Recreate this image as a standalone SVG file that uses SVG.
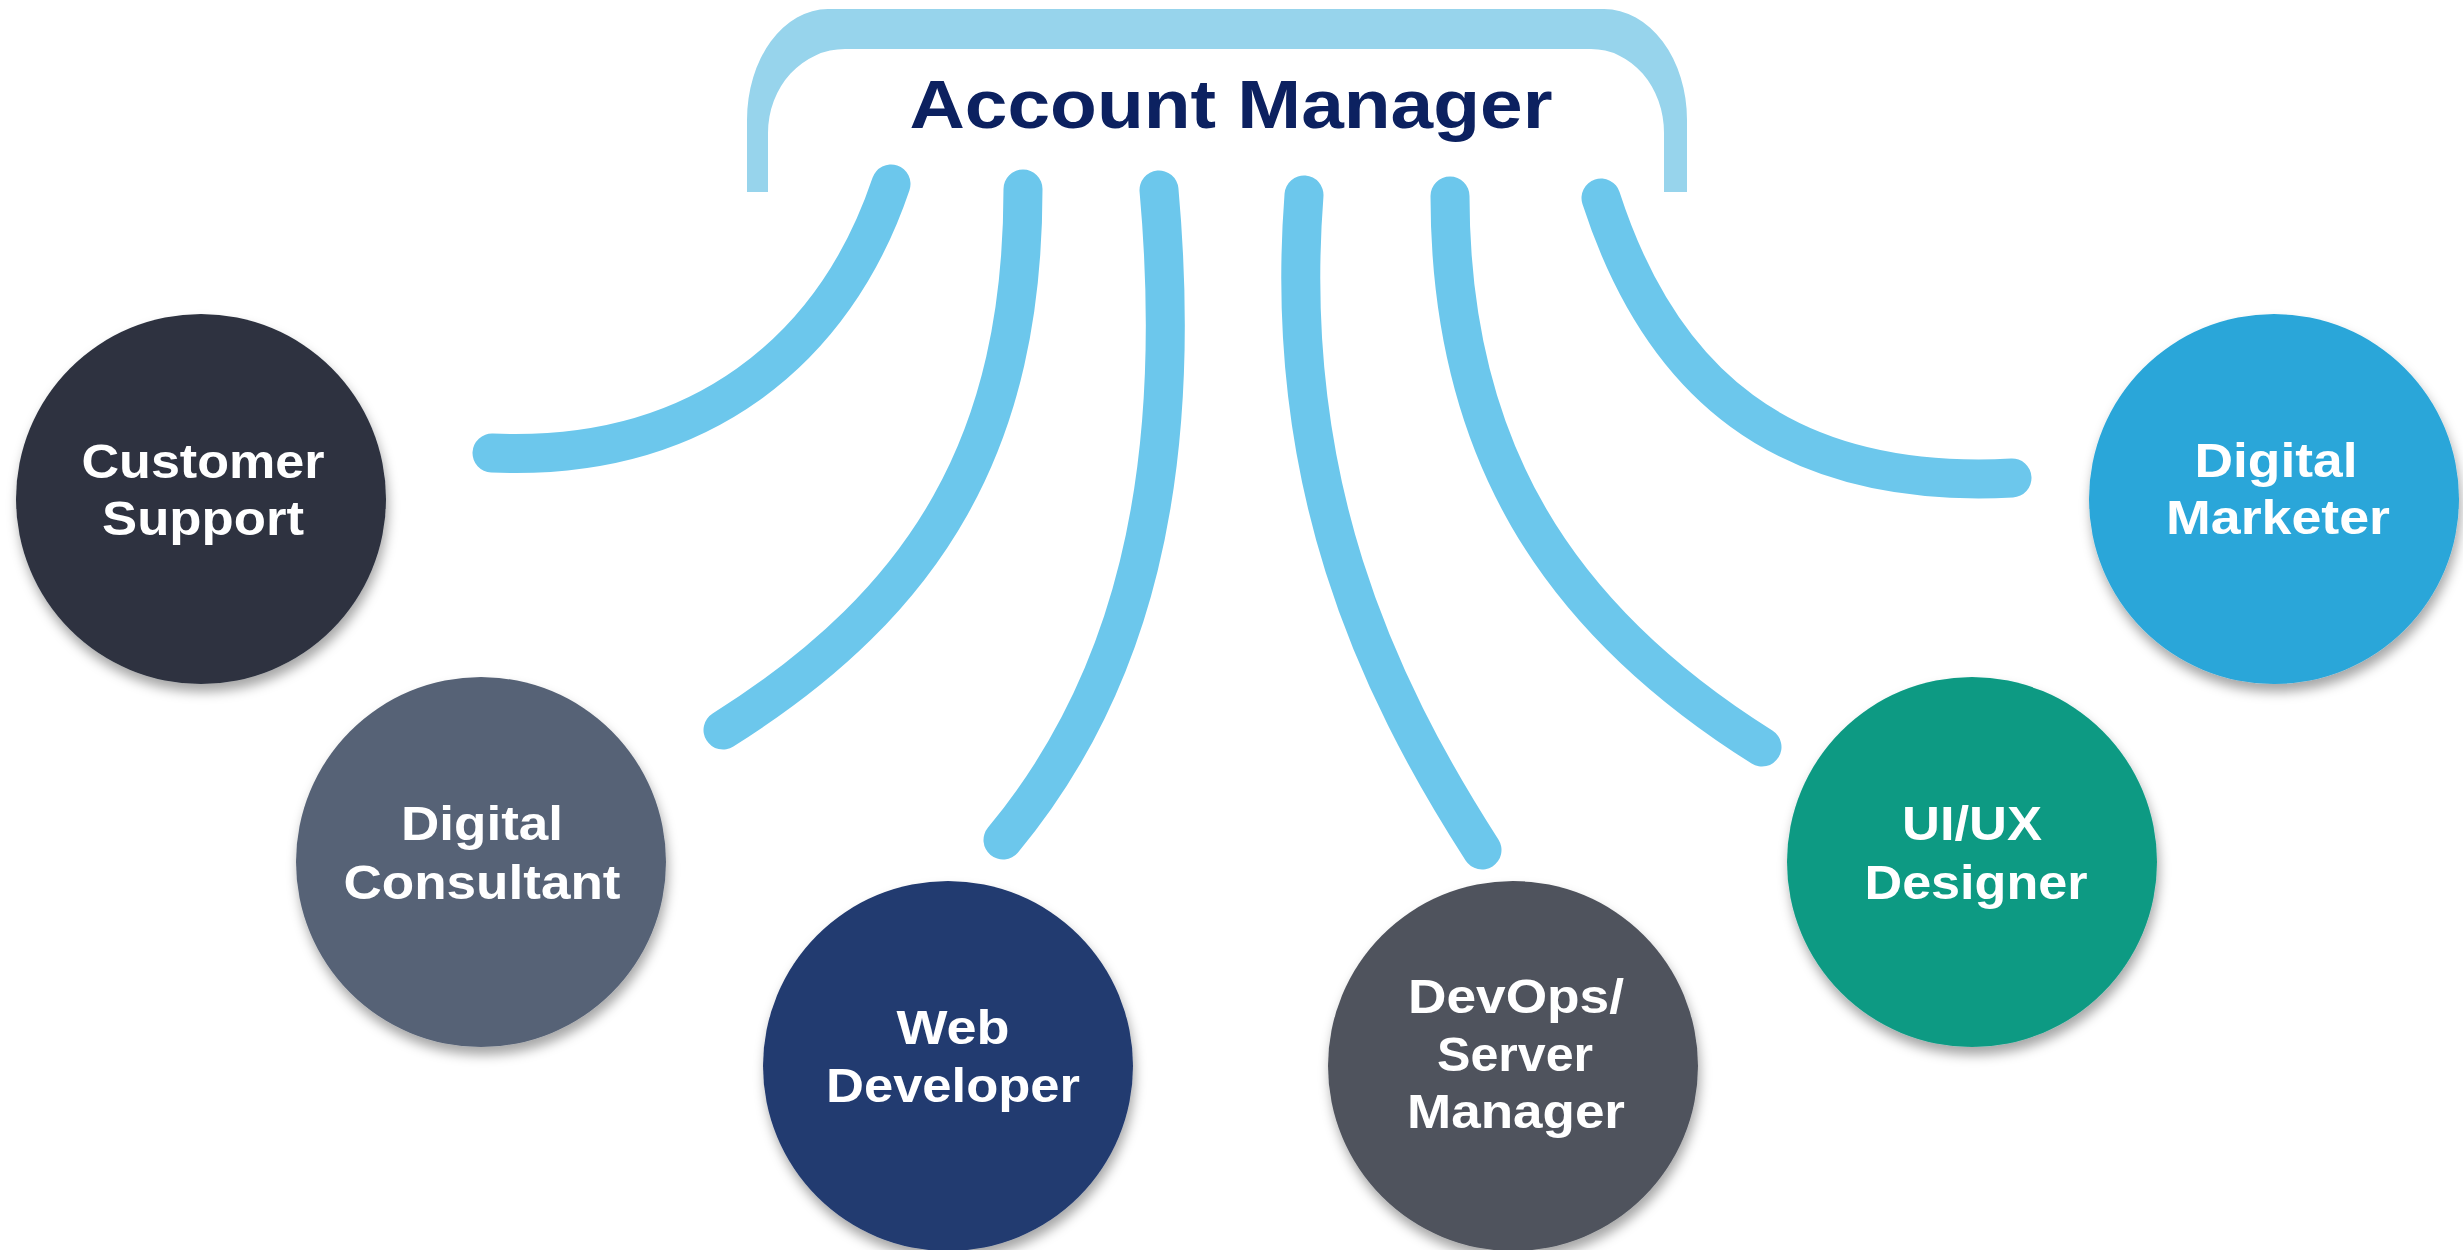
<svg xmlns="http://www.w3.org/2000/svg" width="2463" height="1250" viewBox="0 0 2463 1250">
  <defs>
    <filter id="shadow" x="-20%" y="-20%" width="140%" height="140%">
      <feDropShadow dx="2" dy="8" stdDeviation="6" flood-color="#000" flood-opacity="0.35"/>
    </filter>
  </defs>
  <style>
    .node-circle { filter: url(#shadow); }
    .label { font-family: "Liberation Sans", Arial, sans-serif; font-weight: 700; font-size: 48px; fill: #ffffff; text-anchor: middle; }
    .title { font-family: "Liberation Sans", Arial, sans-serif; font-weight: 700; font-size: 68px; fill: #0C2160; text-anchor: middle; }
    .conn { fill: none; stroke: #6CC7EC; stroke-width: 39; stroke-linecap: round; }
  </style>
  <rect width="2463" height="1250" fill="#ffffff"/>

  <g id="account-manager">
    <path d="M 747 192 L 747 120 A 81 111 0 0 1 828 9 L 1604 9 A 83 111 0 0 1 1687 120 L 1687 192 L 1664 192 L 1664 133 A 73 84 0 0 0 1591 49 L 845 49 A 77 84 0 0 0 768 133 L 768 192 Z" fill="#97D4EC"/>
    <text class="title" x="1231" y="128" textLength="643" lengthAdjust="spacingAndGlyphs">Account Manager</text>
  </g>

  <g id="connectors">
    <path class="conn" d="M 891 184 C 835 350, 700 462, 492 453"/>
    <path class="conn" d="M 1023 189 C 1023 440, 930 600, 723 730"/>
    <path class="conn" d="M 1159 190 C 1185 480, 1131 686, 1003 840"/>
    <path class="conn" d="M 1304 195 C 1282 480, 1374 682, 1482 850"/>
    <path class="conn" d="M 1450 196 C 1450 447, 1555 617, 1762 747"/>
    <path class="conn" d="M 1601 198 C 1660 380, 1780 490, 2012 478"/>
  </g>

  <g id="customer-support">
    <circle class="node-circle" cx="201" cy="499" r="185" fill="#2D3340"/>
    <text class="label" x="203" y="478" textLength="243" lengthAdjust="spacingAndGlyphs">Customer</text>
    <text class="label" x="203" y="535" textLength="202" lengthAdjust="spacingAndGlyphs">Support</text>
  </g>

  <g id="digital-consultant">
    <circle class="node-circle" cx="481" cy="862" r="185" fill="#566276"/>
    <text class="label" x="482" y="840" textLength="162" lengthAdjust="spacingAndGlyphs">Digital</text>
    <text class="label" x="482" y="899" textLength="277" lengthAdjust="spacingAndGlyphs">Consultant</text>
  </g>

  <g id="web-developer">
    <circle class="node-circle" cx="948" cy="1066" r="185" fill="#213A6F"/>
    <text class="label" x="953" y="1044" textLength="113" lengthAdjust="spacingAndGlyphs">Web</text>
    <text class="label" x="953" y="1102" textLength="254" lengthAdjust="spacingAndGlyphs">Developer</text>
  </g>

  <g id="devops-server-manager">
    <circle class="node-circle" cx="1513" cy="1066" r="185" fill="#4F535D"/>
    <text class="label" x="1516" y="1013" textLength="216" lengthAdjust="spacingAndGlyphs">DevOps/</text>
    <text class="label" x="1515" y="1071" textLength="156" lengthAdjust="spacingAndGlyphs">Server</text>
    <text class="label" x="1516" y="1128" textLength="218" lengthAdjust="spacingAndGlyphs">Manager</text>
  </g>

  <g id="ui-ux-designer">
    <circle class="node-circle" cx="1972" cy="862" r="185" fill="#099A83"/>
    <text class="label" x="1972" y="840" textLength="140" lengthAdjust="spacingAndGlyphs">UI/UX</text>
    <text class="label" x="1976" y="899" textLength="223" lengthAdjust="spacingAndGlyphs">Designer</text>
  </g>

  <g id="digital-marketer">
    <circle class="node-circle" cx="2274" cy="499" r="185" fill="#29A6D9"/>
    <text class="label" x="2276" y="477" textLength="163" lengthAdjust="spacingAndGlyphs">Digital</text>
    <text class="label" x="2278" y="534" textLength="224" lengthAdjust="spacingAndGlyphs">Marketer</text>
  </g>
</svg>
